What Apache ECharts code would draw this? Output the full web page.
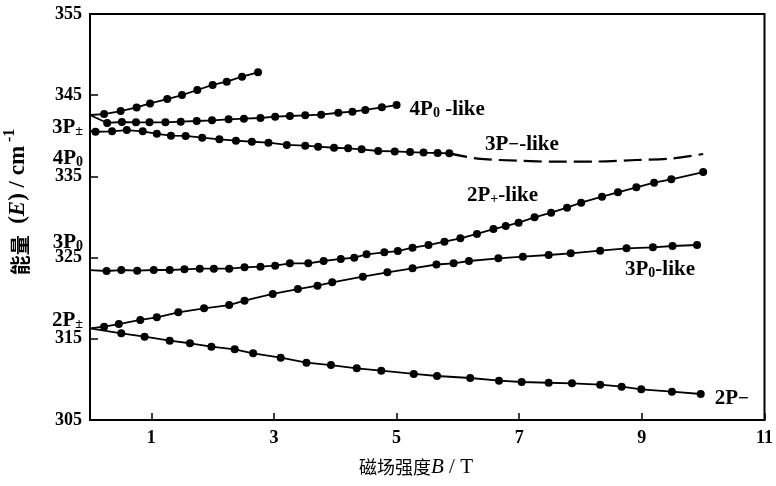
<!DOCTYPE html>
<html>
<head>
<meta charset="utf-8">
<script src="https://cdn.jsdelivr.net/npm/echarts@6/dist/echarts.min.js"></script>
<style>
  html, body { margin: 0; padding: 0; background: #fff; }
  #main { width: 776px; height: 486px; }
</style>
</head>
<body>
<div id="main"></div>
<script>
// Axis ticks
const xTicks = [1, 3, 5, 7, 9, 11];
const yTicks = [305, 315, 325, 335, 345, 355];

// Energy levels E (cm^-1) versus magnetic field B (T): [B, E]
const upperBranch = [
  [0, 342.56], [0.23, 342.68], [0.50, 343.05], [0.76, 343.49], [0.98, 343.98],
  [1.26, 344.53], [1.50, 345.02], [1.75, 345.64], [2.00, 346.26], [2.23, 346.66],
  [2.48, 347.28], [2.74, 347.82]
];
const level4P0like = [
  [0, 342.56], [0.28, 341.58], [0.52, 341.70], [0.75, 341.66], [0.97, 341.66],
  [1.23, 341.66], [1.48, 341.74], [1.74, 341.82], [1.99, 341.91], [2.26, 342.03],
  [2.51, 342.11], [2.78, 342.19], [3.02, 342.35], [3.26, 342.44], [3.51, 342.52],
  [3.77, 342.60], [4.05, 342.84], [4.28, 342.97], [4.49, 343.18], [4.76, 343.51],
  [5.00, 343.79]
];
const level3Pminus = [
  [0, 340.59], [0.09, 340.50], [0.36, 340.55], [0.60, 340.70], [0.86, 340.55],
  [1.09, 340.25], [1.32, 340.01], [1.56, 339.98], [1.83, 339.77], [2.11, 339.57],
  [2.38, 339.40], [2.64, 339.27], [2.91, 339.15], [3.21, 338.87], [3.51, 338.78],
  [3.72, 338.66], [3.98, 338.53], [4.21, 338.46], [4.43, 338.34], [4.70, 338.13],
  [4.97, 338.07], [5.22, 338.00], [5.44, 337.94], [5.67, 337.88], [5.86, 337.84]
];
const level3PminusExtrapolated = [
  [5.86, 337.84], [6.32, 337.20], [6.97, 336.93], [7.61, 336.81], [8.26, 336.83],
  [8.91, 337.02], [9.48, 337.20], [10.00, 337.76]
];
const level2Pplus = [
  [0, 323.47], [0.27, 323.35], [0.51, 323.47], [0.77, 323.39], [1.04, 323.47],
  [1.30, 323.47], [1.54, 323.56], [1.79, 323.63], [2.02, 323.63], [2.27, 323.63],
  [2.52, 323.80], [2.78, 323.88], [3.02, 324.00], [3.26, 324.30], [3.56, 324.30],
  [3.81, 324.58], [4.09, 324.83], [4.31, 324.99], [4.51, 325.41], [4.80, 325.65],
  [5.02, 325.81], [5.26, 326.22], [5.52, 326.55], [5.78, 326.96], [6.04, 327.38],
  [6.31, 327.91], [6.58, 328.52], [6.78, 328.89], [6.99, 329.30], [7.25, 329.96],
  [7.52, 330.53], [7.78, 331.15], [8.01, 331.76], [8.35, 332.50], [8.61, 333.04],
  [8.91, 333.66], [9.20, 334.22], [9.48, 334.64], [10.00, 335.54]
];
const level3P0like = [
  [0, 316.29], [0.23, 316.49], [0.47, 316.82], [0.82, 317.32], [1.09, 317.65],
  [1.44, 318.26], [1.86, 318.76], [2.27, 319.16], [2.52, 319.69], [2.98, 320.52],
  [3.39, 321.13], [3.71, 321.54], [3.95, 321.96], [4.45, 322.65], [4.85, 323.19],
  [5.26, 323.68], [5.65, 324.15], [5.93, 324.30], [6.18, 324.58], [6.66, 324.91],
  [7.06, 325.11], [7.48, 325.32], [7.84, 325.53], [8.32, 325.85], [8.75, 326.14],
  [9.18, 326.27], [9.50, 326.43], [9.90, 326.55]
];
const level2Pminus = [
  [0, 316.29], [0.51, 315.68], [0.89, 315.26], [1.30, 314.77], [1.63, 314.45],
  [1.98, 314.03], [2.36, 313.71], [2.66, 313.21], [3.11, 312.67], [3.53, 312.06],
  [3.93, 311.77], [4.35, 311.37], [4.75, 311.07], [5.28, 310.67], [5.66, 310.42],
  [6.20, 310.17], [6.67, 309.84], [7.04, 309.68], [7.48, 309.59], [7.86, 309.52],
  [8.32, 309.35], [8.67, 309.10], [8.99, 308.78], [9.49, 308.49], [9.96, 308.20]
];

const SERIF = '"Liberation Serif", "DejaVu Serif", serif';
const CJK = '"Noto Sans CJK SC", sans-serif';
const INK = '#000';

// rich-text styles for state names such as 3P± or 4P0-like
const stateRich = {
  m: { fontFamily: SERIF, fontSize: 21, fontWeight: 'bold', color: INK, lineHeight: 30, verticalAlign: 'bottom' },
  s: { fontFamily: SERIF, fontSize: 14, fontWeight: 'bold', color: INK, lineHeight: 18, verticalAlign: 'bottom' },
  d: { fontFamily: SERIF, fontSize: 19, fontWeight: 'bold', color: INK, lineHeight: 26, verticalAlign: 'bottom' }
};

// measured points are dotted; the origin of each curve is a plain line end
function dotted(points) {
  return points.map((p, i) => i === 0 ? { value: p, symbol: 'none' } : { value: p });
}

function levelSeries(name, points, extra) {
  return Object.assign({
    name: name,
    type: 'line',
    data: dotted(points),
    symbol: 'circle',
    symbolSize: 8,
    itemStyle: { color: INK },
    lineStyle: { color: INK, width: 1.8 },
    emphasis: { disabled: true },
    z: 3
  }, extra || {});
}

function stateText(x, y, text, align) {
  return {
    type: 'text', x: x, y: y, z: 10,
    style: { text: text, rich: stateRich, align: align || 'left', verticalAlign: 'middle' }
  };
}

const chart = echarts.init(document.getElementById('main'), null, { renderer: 'canvas' });

chart.setOption({
  animation: false,
  backgroundColor: '#fff',
  grid: {
    left: 90, right: 7, top: 14, bottom: 66,
    show: true, borderColor: INK, borderWidth: 2
  },
  xAxis: {
    type: 'value', min: 0, max: 11,
    axisLine: { onZero: false, lineStyle: { color: INK, width: 2 } },
    axisTick: { show: true, inside: true, length: 7, customValues: xTicks, lineStyle: { color: INK, width: 1.5 } },
    axisLabel: { customValues: xTicks, margin: 9, fontFamily: SERIF, fontSize: 18, fontWeight: 'bold', color: INK },
    splitLine: { show: false }
  },
  yAxis: {
    type: 'value', min: 305, max: 355,
    axisLine: { onZero: false, lineStyle: { color: INK, width: 2 } },
    axisTick: { show: true, inside: true, length: 8, customValues: yTicks, lineStyle: { color: INK, width: 1.5 } },
    axisLabel: { customValues: yTicks, margin: 8, fontFamily: SERIF, fontSize: 18, fontWeight: 'bold', color: INK },
    splitLine: { show: false }
  },
  series: [
    levelSeries('upper', upperBranch),
    levelSeries('4P0-like', level4P0like, {
      endLabel: { show: true, distance: 13, formatter: '{m|4P}{s|0}{m| -like}', rich: stateRich }
    }),
    levelSeries('3P--like', level3Pminus),
    {
      name: '3P--like (extrapolated)',
      type: 'line',
      data: level3PminusExtrapolated,
      symbol: 'none',
      smooth: 0.3,
      lineStyle: { color: INK, width: 2.2, type: [18, 7] },
      emphasis: { disabled: true },
      z: 2
    },
    levelSeries('2P+-like', level2Pplus),
    levelSeries('3P0-like', level3P0like),
    levelSeries('2P-', level2Pminus, {
      endLabel: { show: true, distance: 14, formatter: '{m|2P}{d|−}', rich: stateRich }
    })
  ],
  graphic: [
    // zero-field states on the energy axis
    stateText(83, 123, '{m|3P}{s|±}', 'right'),
    stateText(83, 154, '{m|4P}{s|0}', 'right'),
    stateText(83, 238, '{m|3P}{s|0}', 'right'),
    stateText(83, 316, '{m|2P}{s|±}', 'right'),
    // curve names
    stateText(485, 140, '{m|3P}{d|−}{m|-like}'),
    stateText(467, 191, '{m|2P}{s|+}{m|-like}'),
    stateText(625, 265, '{m|3P}{s|0}{m|-like}'),
    // axis titles
    {
      type: 'text', x: 416, y: 467, z: 10,
      style: {
        text: '{c|磁场强度}{i|B}{r| / T}',
        align: 'center', verticalAlign: 'middle',
        rich: {
          c: { fontFamily: CJK, fontSize: 18, color: INK },
          i: { fontFamily: SERIF, fontSize: 21, fontStyle: 'italic', color: INK },
          r: { fontFamily: SERIF, fontSize: 21, color: INK }
        }
      }
    },
    {
      type: 'text', x: 16, y: 202, rotation: Math.PI / 2, z: 10,
      style: {
        text: '{b|能量}{e|  (}{ei|E}{e|) / cm}{sup| -1}',
        align: 'center', verticalAlign: 'middle',
        rich: {
          b: { fontFamily: CJK, fontSize: 20, fontWeight: 'bold', color: INK, lineHeight: 28, verticalAlign: 'bottom' },
          e: { fontFamily: SERIF, fontSize: 23, fontWeight: 'bold', color: INK, lineHeight: 28, verticalAlign: 'bottom' },
          ei: { fontFamily: SERIF, fontSize: 23, fontWeight: 'bold', fontStyle: 'italic', color: INK, lineHeight: 28, verticalAlign: 'bottom' },
          sup: { fontFamily: SERIF, fontSize: 16, fontWeight: 'bold', color: INK, lineHeight: 14, verticalAlign: 'top' }
        }
      }
    }
  ]
});
</script>
</body>
</html>
